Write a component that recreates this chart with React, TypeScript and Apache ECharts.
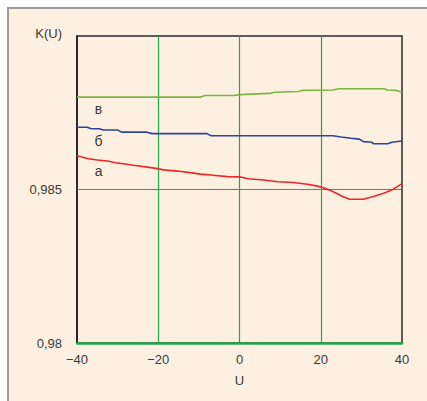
import React, { useEffect, useRef } from "react";
import * as echarts from "echarts";

// K(U) curves, pairs of [U, K]
const curveA: [number, number][] = [
  [-40, 0.9861], [-37.2, 0.986], [-35, 0.98596], [-32.5, 0.98593], [-30.5, 0.98587],
  [-28.6, 0.98584], [-26.1, 0.98579], [-22.7, 0.98573], [-20.2, 0.98568], [-18.7, 0.98564],
  [-15.3, 0.9856], [-12.1, 0.98555], [-9.6, 0.9855], [-7.1, 0.98547], [-3, 0.98542],
  [0.2, 0.98541], [2.2, 0.98535], [5.9, 0.98531], [9.4, 0.98525], [13.3, 0.98523],
  [16.7, 0.98517], [19.2, 0.98511], [21.2, 0.98503], [23.2, 0.98492], [25.4, 0.98477],
  [27.1, 0.98468], [30.5, 0.98468], [33, 0.98477], [35.5, 0.98488], [37.9, 0.98501],
  [40, 0.98519],
];
const curveB: [number, number][] = [
  [-40, 0.98703], [-37.5, 0.98703], [-36.5, 0.98698], [-34.5, 0.98698], [-33.5, 0.98694],
  [-30, 0.98694], [-29, 0.98687], [-23, 0.98687], [-21.5, 0.98682], [-8, 0.98682],
  [-7, 0.98675], [23, 0.98675], [25, 0.98671], [27.5, 0.98667], [29.5, 0.98664],
  [30.5, 0.98656], [32.5, 0.98654], [33, 0.98649], [36.5, 0.98649], [37.5, 0.98654],
  [40, 0.98658],
];
const curveV: [number, number][] = [
  [-40, 0.98801], [-9.5, 0.98801], [-8.5, 0.98806], [-1.5, 0.98806], [0, 0.98809],
  [7.5, 0.98813], [8.5, 0.98817], [14.5, 0.98819], [15.5, 0.98823], [23, 0.98824],
  [24.5, 0.98828], [35.5, 0.98828], [36.5, 0.98824], [38.5, 0.98823], [40, 0.98817],
];

// curve letters and where they sit
const curveNames = ["а", "б", "в"];
const nameAnchors: [number, number][] = [
  [-34.7, 0.9856], [-34.7, 0.98658], [-34.7, 0.98762],
];

// axis extents and reference grid lines
const uRange: [number, number] = [-40, 40];
const kRange: [number, number] = [0.98, 0.99];
const gridU = [-20, 0, 20];
const gridK = [0.985];

const TEXT = "#3a3a3a";
const FONT = "Liberation Sans";
const GRID_GREEN = "#1fa84c";

export default function App() {
  const ref = useRef<HTMLDivElement>(null);

  useEffect(() => {
    if (!ref.current) return;
    const chart = echarts.init(ref.current, undefined, { renderer: "svg" });

    const nameMark = (i: number) => ({
      symbol: "circle",
      symbolSize: 0,
      silent: true,
      label: {
        show: true,
        position: "inside",
        formatter: curveNames[i],
        color: TEXT,
        fontFamily: FONT,
        fontSize: 14,
      },
      data: [{ coord: nameAnchors[i] }],
    });

    const gridLines = [
      ...gridU.map((u) => [{ coord: [u, kRange[0]] }, { coord: [u, kRange[1]] }]),
      ...gridK.map((k) => [{ coord: [uRange[0], k] }, { coord: [uRange[1], k] }]),
    ];

    chart.setOption({
      animation: false,
      textStyle: { fontFamily: FONT },
      grid: {
        left: 77,
        top: 36,
        right: 25,
        bottom: 58,
        show: true,
        borderColor: "#2a2a2a",
        borderWidth: 1.5,
        backgroundColor: "transparent",
      },
      xAxis: {
        type: "value",
        min: uRange[0],
        max: uRange[1],
        interval: 20,
        name: "U",
        nameLocation: "middle",
        nameGap: 31,
        nameTextStyle: { color: TEXT, fontSize: 13, fontFamily: FONT },
        axisLine: { show: true, onZero: false, lineStyle: { color: GRID_GREEN, width: 2.5 } },
        axisTick: { show: false },
        splitLine: { show: false },
        axisLabel: {
          color: TEXT,
          fontSize: 13,
          fontFamily: FONT,
          margin: 10,
          formatter: (v: number) => (v < 0 ? "\u2212" + Math.abs(v) : String(v)),
        },
      },
      yAxis: {
        type: "value",
        min: kRange[0],
        max: kRange[1],
        interval: 0.005,
        axisLine: { show: true, onZero: false, lineStyle: { color: "#1a1a1a", width: 1.5 } },
        axisTick: { show: false },
        splitLine: { show: false },
        axisLabel: {
          color: TEXT,
          fontSize: 13,
          fontFamily: FONT,
          margin: 15,
          formatter: (v: number) => {
            const r = Math.round(v * 1000) / 1000;
            if (r >= 0.99) return "";
            return String(r).replace(".", ",");
          },
        },
      },
      graphic: [
        {
          type: "text",
          x: 62,
          y: 33,
          style: {
            text: "K(U)",
            fill: TEXT,
            font: `13px "${FONT}"`,
            align: "right",
            verticalAlign: "middle",
          },
        },
      ],
      series: [
        {
          type: "line",
          data: curveV,
          showSymbol: false,
          lineStyle: { color: "#7ab543", width: 1.6 },
          z: 3,
          markPoint: nameMark(2),
          markLine: {
            silent: true,
            symbol: ["none", "none"],
            label: { show: false },
            lineStyle: { color: GRID_GREEN, width: 1.2, type: "solid" },
            data: gridLines,
            z: 1,
          },
        },
        {
          type: "line",
          data: curveB,
          showSymbol: false,
          lineStyle: { color: "#2a45a0", width: 1.6 },
          z: 3,
          markPoint: nameMark(1),
        },
        {
          type: "line",
          data: curveA,
          showSymbol: false,
          lineStyle: { color: "#e8292b", width: 1.6 },
          z: 3,
          markPoint: nameMark(0),
        },
      ],
    });

    return () => chart.dispose();
  }, []);

  return (
    <div
      style={{
        position: "fixed",
        left: 0,
        top: 0,
        width: 427,
        height: 401,
        background: "#ffffff",
        overflow: "hidden",
      }}
    >
      <div
        style={{
          position: "absolute",
          left: 7,
          top: 7,
          width: 440,
          height: 420,
          borderLeft: "2px solid #9c9c9c",
          borderTop: "2px solid #9c9c9c",
          background: "#fdf0e1",
        }}
      />
      <div
        ref={ref}
        style={{ position: "absolute", left: 0, top: 0, width: 427, height: 401 }}
      />
    </div>
  );
}
